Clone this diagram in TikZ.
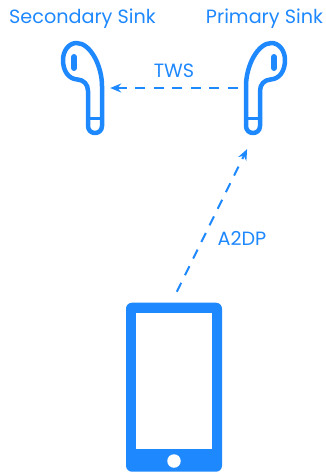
\documentclass[tikz,border=0pt]{standalone}
\usepackage{fontspec}
\setmainfont{Poppins}
\usetikzlibrary{arrows.meta}
\definecolor{sinkblue}{HTML}{1E88FF}

\begin{document}
\begin{tikzpicture}[
  x=1pt, y=-1pt, >={Stealth[length=11pt,width=9pt]},
  lbl/.style={text=sinkblue, inner sep=0pt, font=\fontsize{19.2}{22}\selectfont},
  bud/.style={inner sep=0pt, minimum width=43pt, minimum height=94pt},
  link/.style={draw=sinkblue, line width=2pt, dash pattern=on 10pt off 8.5pt},
  earbud/.pic={
    \draw[sinkblue, line width=4.5pt, line join=round]
      (5.5,38) -- (5.5,3) .. controls (5.5,-4) and (1,-8) .. (-5,-8.5)
      .. controls (-14,-9) and (-19.5,-17) .. (-19.5,-28)
      .. controls (-19.5,-38) and (-13,-45) .. (-6,-45)
      .. controls (8,-45) and (19.5,-22) .. (19.5,-2)
      -- (19.5,38) .. controls (19.5,42.5) and (16,45) .. (12.5,45)
      .. controls (9,45) and (5.5,42.5) .. (5.5,38) -- cycle;
    \draw[sinkblue, line width=3pt] (5.5,30) -- (19.5,30);
    \draw[sinkblue, line width=6pt, line cap=round] (-8.5,-31) -- (-8.5,-20);
  }]

  \useasboundingbox (0,0) rectangle (326,472);

  % --- the two sinks ---
  \node[bud] (secondary) at (82.5,88) {};
  \node[bud] (primary) at (265.5,88) {};
  \pic at (secondary) {earbud};
  \pic[xscale=-1] at (primary) {earbud};
  \node[lbl] (secondarylbl) at (82.5,18.5) {Secondary Sink};
  \node[lbl] (primarylbl) at (264.5,18.5) {Primary Sink};

  % --- the phone ---
  \node[fill=sinkblue, rounded corners=6pt, inner sep=0pt, minimum width=96pt, minimum height=169pt] (phone) at (174,387.2) {};
  \node[fill=white, inner sep=0pt, minimum width=76pt, minimum height=136pt] (screen) at (174,381) {};
  \node[fill=white, circle, inner sep=0pt, minimum size=13.5pt] (button) at (174,461) {};

  % --- links and their labels ---
  \draw[link, ->, shorten <=6pt, shorten >=6pt] (primary.west) -- (secondary.east);
  \draw[link, ->, shorten <=12pt, shorten >=15.5pt] ([xshift=-2.5pt]phone.north) -- ([xshift=-11.5pt]primary.south);
  \node[lbl] (tws) at (174,71) {TWS};
  \node[lbl] (a2dp) at (242,238) {A2DP};
\end{tikzpicture}
\end{document}
